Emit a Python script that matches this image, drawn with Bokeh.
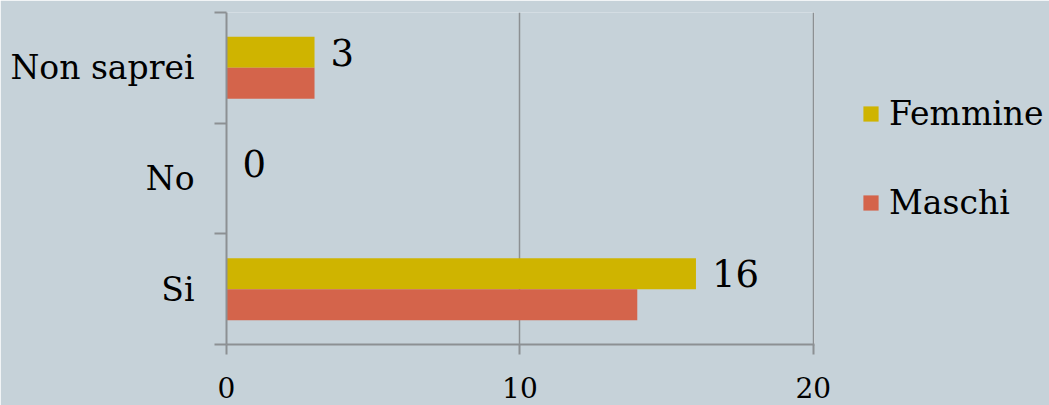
from bokeh.plotting import figure
from bokeh.models import (ColumnDataSource, Range1d, FixedTicker, Legend, LegendItem)
from bokeh.transform import dodge
from bokeh.core.properties import value
from bokeh.embed import file_html
from bokeh.resources import INLINE

# ---- data ----
categories = ["Si", "No", "Non saprei"]
femmine = [16, 0, 3]
maschi = [14, 0, 3]
x_ticks = [0, 10, 20]
series_names = ["Femmine", "Maschi"]
series_colors = ["#cfb400", "#d4644b"]

BG = "#c6d2d9"
GRID = "#8c9093"
FONT = "DejaVu Serif"

n = len(categories)
centres = [i + 0.5 for i in range(n)]
src = ColumnDataSource(dict(cat=categories, ypos=centres, femmine=femmine, maschi=maschi,
                            label=[str(v) for v in femmine]))

p = figure(frame_width=588, frame_height=332,
           min_border_left=226, min_border_right=235,
           min_border_top=12, min_border_bottom=61,
           output_backend="svg", toolbar_location=None,
           y_range=Range1d(0, n),
           x_range=Range1d(x_ticks[0], x_ticks[-1] * 1.002))

p.background_fill_color = BG
p.border_fill_color = BG
p.outline_line_color = None

# bars
bar_h = 0.28
r_f = p.hbar(y=dodge("ypos", bar_h / 2), left=0, right="femmine",
             height=bar_h, fill_color=series_colors[0], line_color=None, source=src)
r_m = p.hbar(y=dodge("ypos", -bar_h / 2), left=0, right="maschi",
             height=bar_h, fill_color=series_colors[1], line_color=None, source=src)

# data labels
p.text(x="femmine", y=dodge("ypos", bar_h / 2), text="label",
       x_offset=16, text_align="left", text_baseline="middle",
       text_font=value(FONT), text_font_size="37px", text_color="black", source=src)

# x axis
p.xaxis.ticker = FixedTicker(ticks=x_ticks)
p.xaxis.axis_line_color = GRID
p.xaxis.axis_line_width = 2
p.xaxis.major_tick_line_color = GRID
p.xaxis.major_tick_line_width = 2
p.xaxis.major_tick_out = 10
p.xaxis.major_tick_in = 0
p.xaxis.minor_tick_line_color = None
p.xaxis.major_label_text_font = FONT
p.xaxis.major_label_text_font_size = "28px"
p.xaxis.major_label_text_color = "black"
p.xaxis.major_label_standoff = 22

p.xgrid.ticker = FixedTicker(ticks=x_ticks)
p.xgrid.grid_line_color = GRID
p.xgrid.grid_line_width = 1.5
p.ygrid.grid_line_color = None

# y axis: labels at category centres, ticks at category boundaries
yax = p.yaxis[0]
yax.ticker = FixedTicker(ticks=centres, minor_ticks=list(range(n + 1)))
yax.major_label_overrides = {c: lab for c, lab in zip(centres, categories)}
yax.axis_line_color = GRID
yax.axis_line_width = 2
yax.major_tick_line_color = None
yax.major_tick_out = 0
yax.major_tick_in = 0
yax.minor_tick_line_color = GRID
yax.minor_tick_line_width = 2
yax.minor_tick_out = 12
yax.minor_tick_in = 0
yax.major_label_text_font = FONT
yax.major_label_text_font_size = "33px"
yax.major_label_text_color = "black"
yax.major_label_standoff = 20

# legend (outside the frame, on the right)
legend = Legend(items=[LegendItem(label=series_names[0], renderers=[r_f]),
                       LegendItem(label=series_names[1], renderers=[r_m])],
                location=(47, 122), orientation="vertical",
                glyph_width=19, glyph_height=19, label_standoff=9,
                spacing=50, padding=0, margin=0,
                label_text_font=FONT, label_text_font_size="33px",
                label_text_color="black",
                background_fill_alpha=0, border_line_color=None)
p.add_layout(legend, "right")

html = file_html(p, INLINE)
html = html.replace("<body>", '<body style="background-color:%s;">' % BG, 1)
open("out.html", "w").write(html)
